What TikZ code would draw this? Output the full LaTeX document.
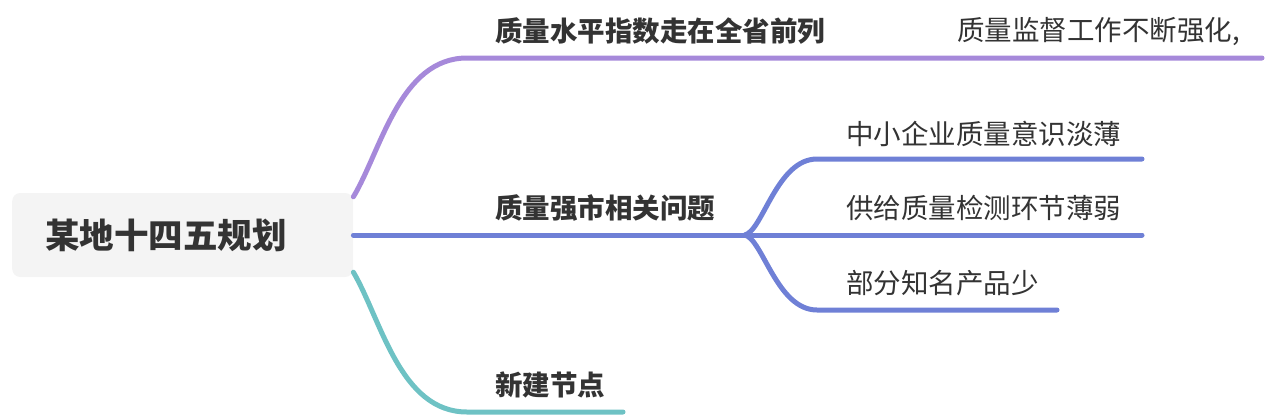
\documentclass[tikz,border=0pt]{standalone}
\usepackage{fontspec}
\setmainfont{Noto Sans CJK SC}
\definecolor{mmpurple}{RGB}{166,137,218}
\definecolor{mmblue}{RGB}{111,128,214}
\definecolor{mmteal}{RGB}{110,194,196}
\definecolor{mmtext}{RGB}{51,51,51}
\definecolor{mmroot}{RGB}{244,244,244}

\begin{document}
\begin{tikzpicture}[x=1pt, y=-1pt,
    link/.style={line width=5pt, line cap=round},
    rootbox/.style={anchor=west, fill=mmroot, rounded corners=8pt, minimum height=84pt,
        text width=275pt, align=left, inner xsep=33pt, inner ysep=0pt, text=mmtext,
        font=\fontsize{34.5}{40}\selectfont\bfseries},
    topic/.style={anchor=west, inner sep=0pt, text=mmtext, font=\fontsize{27.5}{30}\selectfont\bfseries},
    leaf/.style={anchor=west, inner sep=0pt, text=mmtext, font=\fontsize{27.5}{30}\selectfont}]
    \useasboundingbox (0,0) rectangle (1272,416);

    % Root
    \node[rootbox] (root) at (12,235) {某地十四五规划};
    \coordinate (rootUp) at ([yshift=-4pt]root.north east);
    \coordinate (rootLow) at ([yshift=5pt]root.south east);

    % Line ends
    \coordinate (q1L) at (467,58);
    \coordinate (q1R) at (1262,58);
    \coordinate (fork) at (745,235);
    \coordinate (l1L) at (817,159);
    \coordinate (l1R) at (1142,159);
    \coordinate (l2R) at (1142,235);
    \coordinate (l3L) at (817,310);
    \coordinate (l3R) at (1057,310);
    \coordinate (q3L) at (467,412);
    \coordinate (q3R) at (623,412);

    % Branches
    \draw[link, mmpurple] (rootUp) .. controls +(28,-47) and +(-67,0) .. (q1L) -- (q1R);
    \draw[link, mmblue] (root.east) -- (fork) -- (l2R);
    \draw[link, mmblue] (fork) .. controls +(18,-5) and +(-40,0) .. (l1L) -- (l1R);
    \draw[link, mmblue] (fork) .. controls +(18,5) and +(-40,0) .. (l3L) -- (l3R);
    \draw[link, mmteal] (rootLow) .. controls +(28,48) and +(-67,0) .. (q3L) -- (q3R);

    % Topics
    \node[topic] (q1) at (495,31) {质量水平指数走在全省前列};
    \node[leaf] (q1a) at (957,32) {质量监督工作不断强化,};
    \node[topic] (q2) at (495,208) {质量强市相关问题};
    \node[topic] (q3) at (495,385) {新建节点};

    % Leaves
    \foreach \n/\y/\t in {l1/134/中小企业质量意识淡薄, l2/208/供给质量检测环节薄弱, l3/283/部分知名产品少} {
        \node[leaf] (\n) at (846,\y) {\t};
    }
\end{tikzpicture}
\end{document}
